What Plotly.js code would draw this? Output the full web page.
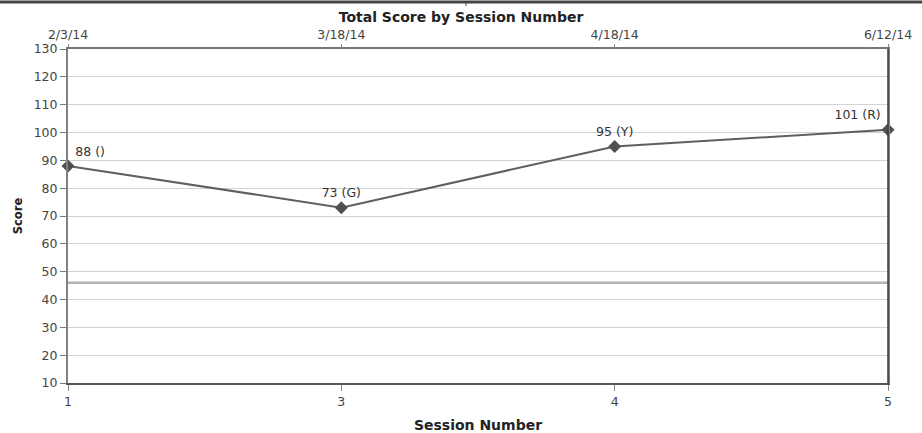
<!DOCTYPE html>
<html>
<head>
<meta charset="utf-8">
<script src="https://cdn.plot.ly/plotly-3.0.1.min.js"></script>
<style>
  html, body { margin: 0; padding: 0; background: #fff; }
  #chart { width: 922px; height: 433px; }
</style>
</head>
<body>
<div id="chart"></div>
<script>
// Session scores with the colour grade noted next to each score
const sessions = ['1', '3', '4', '5'];
const sessionDates = ['2/3/14', '3/18/14', '4/18/14', '6/12/14'];
const scores = [88, 73, 95, 101];
const grades = ['', 'G', 'Y', 'R'];
const threshold = 46;
const yTicks = [10, 20, 30, 40, 50, 60, 70, 80, 90, 100, 110, 120, 130];

const positions = sessions.map((s, i) => i);
const labels = scores.map((v, i) => v + ' (' + grades[i] + ')');

const FONT = 'DejaVu Sans, Verdana, sans-serif';
const AXIS_DARK = '#555';

const trace = {
  x: positions,
  y: scores,
  type: 'scatter',
  mode: 'lines+markers+text',
  line: { color: '#5f5f5f', width: 2 },
  marker: { symbol: 'diamond', size: 10, color: '#505050' },
  text: labels,
  textposition: ['top right', 'top center', 'top center', 'top left'],
  textfont: { family: FONT, size: 12.5, color: '#333' },
  cliponaxis: false,
  hoverinfo: 'skip',
  showlegend: false
};

// Invisible companion trace so the date axis along the top is laid out
const dateTrace = {
  x: positions,
  y: scores,
  xaxis: 'x2',
  type: 'scatter',
  mode: 'markers',
  marker: { opacity: 0 },
  hoverinfo: 'skip',
  showlegend: false
};

const layout = {
  width: 922,
  height: 433,
  margin: { l: 68, r: 34, t: 49, b: 50, pad: 0 },
  paper_bgcolor: '#fff',
  plot_bgcolor: '#fff',
  font: { family: FONT, size: 12, color: '#333' },
  title: {
    text: '<b>Total Score by Session Number</b>',
    font: { family: FONT, size: 14, color: '#222' },
    x: 0.5, xanchor: 'center',
    y: 0.972, yanchor: 'top'
  },
  xaxis: {
    range: [0, 3],
    tickmode: 'array',
    tickvals: positions,
    ticktext: sessions,
    showgrid: false,
    zeroline: false,
    showline: true,
    linecolor: AXIS_DARK,
    linewidth: 2,
    ticks: 'outside',
    ticklen: 6,
    tickcolor: '#888',
    tickfont: { family: FONT, size: 12.5, color: '#444' },
    title: {
      text: '<b>Session Number</b>',
      font: { family: FONT, size: 14, color: '#222' },
      standoff: 12
    }
  },
  xaxis2: {
    overlaying: 'x',
    side: 'top',
    range: [0, 3],
    tickmode: 'array',
    tickvals: positions,
    ticktext: sessionDates,
    showgrid: false,
    zeroline: false,
    showline: true,
    linecolor: '#777',
    linewidth: 2,
    ticks: 'outside',
    ticklen: 3,
    tickcolor: '#888',
    tickfont: { family: FONT, size: 12.5, color: '#444' }
  },
  yaxis: {
    range: [10, 130],
    tickmode: 'array',
    tickvals: yTicks,
    showgrid: true,
    gridcolor: '#d2d2d2',
    gridwidth: 1,
    zeroline: false,
    showline: true,
    linecolor: '#808080',
    linewidth: 2,
    mirror: true,
    ticks: 'outside',
    ticklen: 6,
    tickcolor: '#777',
    tickfont: { family: FONT, size: 12.5, color: '#444' },
    title: {
      text: '<b>Score</b>',
      font: { family: FONT, size: 11.5, color: '#222' },
      standoff: 9
    }
  },
  shapes: [
    {
      type: 'line', xref: 'paper', yref: 'y',
      x0: 0, x1: 1, y0: threshold, y1: threshold,
      line: { color: '#b4b4b4', width: 2.5 },
      layer: 'below'
    },
    {
      type: 'line', xref: 'paper', yref: 'y',
      x0: 1, x1: 1, y0: 10, y1: 130,
      line: { color: '#3a3a3a', width: 1.5 }
    },
    {
      type: 'line', xref: 'paper', yref: 'paper',
      x0: -68 / 820, x1: 1 + 34 / 820, y0: 1 + 47 / 334, y1: 1 + 47 / 334,
      line: { color: '#444', width: 3 }
    },
    {
      type: 'line', xref: 'paper', yref: 'paper',
      x0: (466 - 68) / 820, x1: (466 - 68) / 820, y0: 1 + 47 / 334, y1: 1 + 43 / 334,
      line: { color: '#444', width: 1 }
    }
  ]
};

Plotly.newPlot('chart', [trace, dateTrace], layout, { displayModeBar: false, staticPlot: true });
</script>
</body>
</html>
